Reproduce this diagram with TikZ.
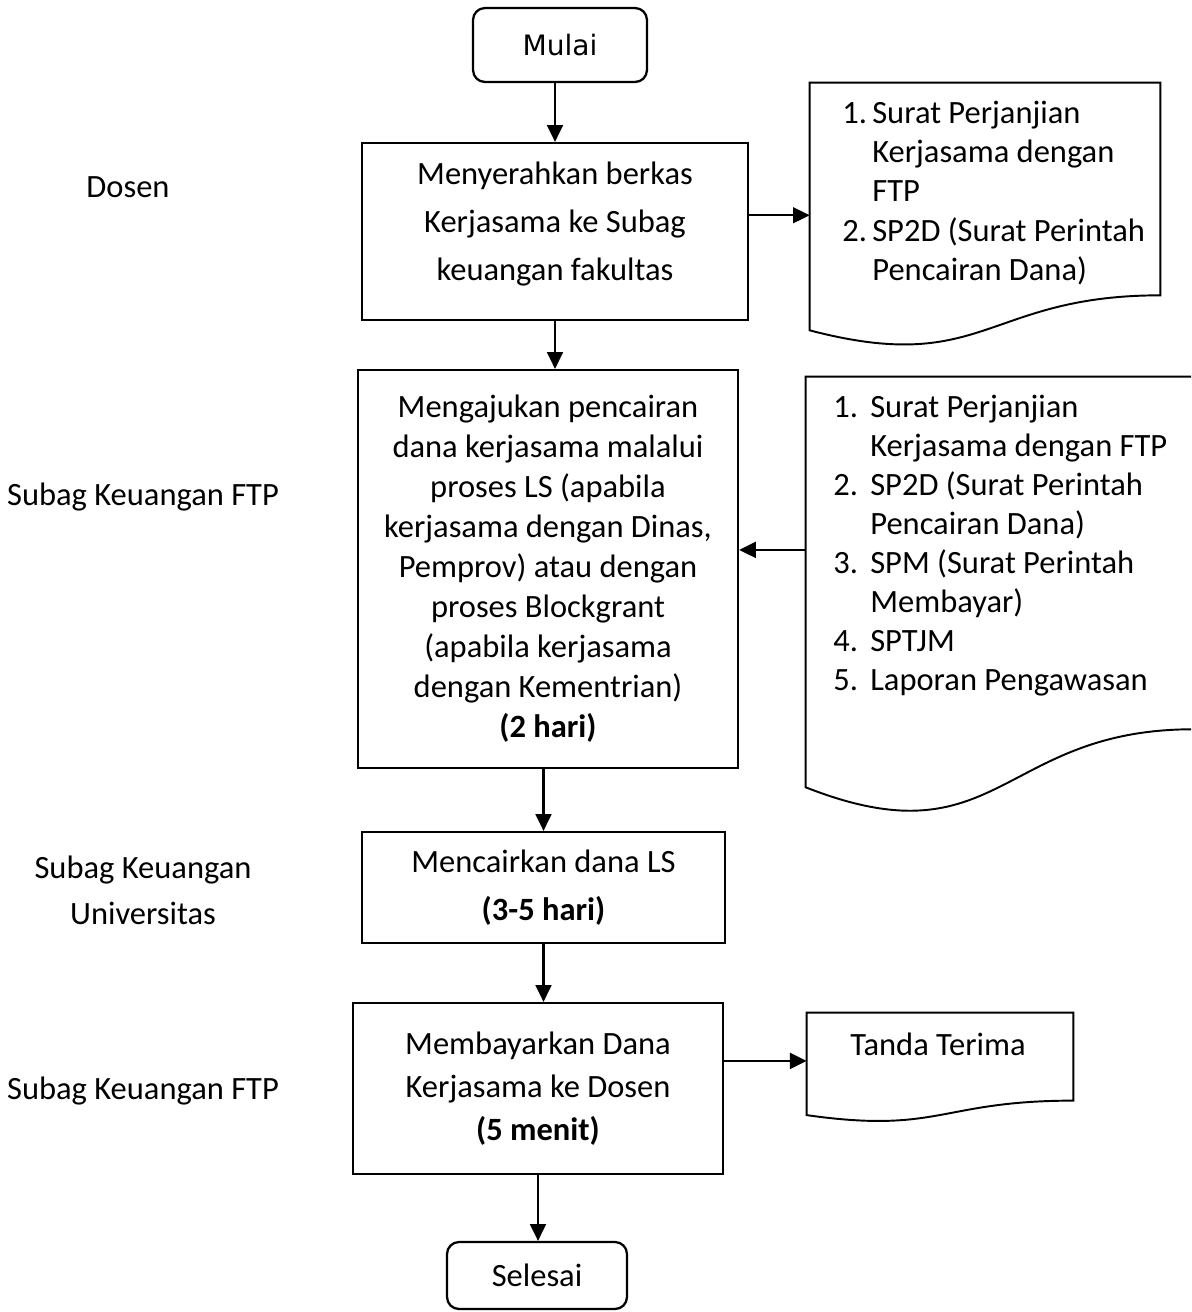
\documentclass[tikz,border=0pt]{standalone}
\usepackage{fontspec}
\setmainfont{Carlito}
\newfontfamily\mulaifont{DejaVu Sans}
\usetikzlibrary{arrows.meta,calc}
\newcommand{\flowfs}[1]{\fontsize{18.5pt}{#1}\selectfont}
% document symbol: straight top and sides, wavy bottom
\newcommand{\docoutline}[1]{%
  \draw[line width=1.1pt] (#1.north west) -- (#1.north east)
    -- ($(#1.north east)!0.802!(#1.south east)$)
    .. controls ($(#1.north)!0.802!(#1.south)$) and ($(#1.north)!1.1075!(#1.south)$)
    .. ($(#1.north west)!0.934!(#1.south west)$) -- cycle;}
\tikzset{
    box/.style={draw, line width=1.3pt, align=center, inner sep=0pt},
    term/.style={box, rounded corners=0.24cm},
    docframe/.style={inner sep=0pt},
    txt/.style={align=center, inner sep=0pt},
    listtxt/.style={inner sep=0pt, anchor=west},
    lane/.style={align=center, inner sep=0pt, font=\flowfs{26.1pt}},
    arr/.style={-{Triangle[length=9.5pt,width=9pt]}, line width=1.3pt}
}
\begin{document}
\begin{tikzpicture}[x=0.02cm, y=-0.02cm, line join=miter]
    \useasboundingbox (0,0) rectangle (1191,1312);
    \clip (0,0) rectangle (1191,1312);
    % lanes
    \node[lane] (ldosen) at (128,187) {Dosen};
    \node[lane] (lftpa) at (143,497) {Subag Keuangan FTP};
    \node[lane] (luniv) at (143,890) {Subag Keuangan\\Universitas};
    \node[lane] (lftpb) at (143,1091) {Subag Keuangan FTP};
    % process column
    \node[term, minimum width=3.48cm, minimum height=1.48cm,
        font=\mulaifont\fontsize{16pt}{18pt}\selectfont] (mulai) at (560,45) {Mulai};
    \node[box, minimum width=7.72cm, minimum height=3.54cm] (b1) at (555,231.5) {};
    \node[txt, font=\flowfs{27.2pt}] (b1txt) at (555,224)
        {Menyerahkan berkas\\Kerjasama ke Subag\\keuangan fakultas};
    \node[box, minimum width=7.6cm, minimum height=7.96cm, font=\flowfs{22.75pt}] (b2) at (548,569)
        {Mengajukan pencairan\\dana kerjasama malalui\\proses LS (apabila\\kerjasama dengan Dinas,\\Pemprov) atau dengan\\proses Blockgrant\\(apabila kerjasama\\dengan Kementrian)\\\textbf{(2 hari)}};
    \node[box, minimum width=7.26cm, minimum height=2.22cm, font=\flowfs{27.2pt}] (b3) at (543.5,887.5)
        {Mencairkan dana LS\\\textbf{(3-5 hari)}};
    \node[box, minimum width=7.4cm, minimum height=3.42cm, font=\flowfs{24.4pt}] (b4) at (538,1088.5)
        {Membayarkan Dana\\Kerjasama ke Dosen\\\textbf{(5 menit)}};
    \node[term, minimum width=3.6cm, minimum height=1.34cm, font=\flowfs{22pt}] (selesai) at (537,1275.5) {Selesai};
    % documents
    \node[docframe, minimum width=7cm, minimum height=5.29cm] (d1) at (985,215.25) {};
    \docoutline{d1}
    \node[listtxt, font=\flowfs{22.3pt}] (d1txt) at (842,194)
        {\begin{tabular}{@{}p{0.6cm}@{}l@{}}1.&Surat Perjanjian\\&Kerjasama dengan\\&FTP\\2.&SP2D (Surat Perintah\\&Pencairan Dana)\end{tabular}};
    \node[docframe, minimum width=7.74cm, minimum height=8.78cm] (d2) at (999.5,596.5) {};
    \docoutline{d2}
    \node[listtxt, font=\flowfs{22.2pt}] (d2txt) at (833,546)
        {\begin{tabular}{@{}p{0.74cm}@{}l@{}}1.&Surat Perjanjian\\&Kerjasama dengan FTP\\2.&SP2D (Surat Perintah\\&Pencairan Dana)\\3.&SPM (Surat Perintah\\&Membayar)\\4.&SPTJM\\5.&Laporan Pengawasan\end{tabular}};
    \node[docframe, minimum width=5.32cm, minimum height=2.18cm] (d3) at (940,1067.5) {};
    \docoutline{d3}
    \node[txt, font=\flowfs{22pt}] (d3txt) at (938,1044) {Tanda Terima};
    % connectors
    \draw[arr] (b1.north |- mulai.south) -- (b1.north);
    \draw[arr] (d1.west -| b1.east) -- (d1.west);
    \draw[arr] (b1.south) -- (b1.south |- b2.north);
    \coordinate (d2in) at ($(d2.north west)!0.394!(d2.south west)$);
    \draw[arr] (d2in) -- (d2in -| b2.east);
    \draw[arr] (b3.north |- b2.south) -- (b3.north);
    \draw[arr] (b3.south) -- (b3.south |- b4.north);
    \coordinate (d3in) at ($(d3.north west)!0.44!(d3.south west)$);
    \draw[arr] (d3in -| b4.east) -- (d3in);
    \draw[arr] (b4.south) -- (b4.south |- selesai.north);
\end{tikzpicture}
\end{document}
